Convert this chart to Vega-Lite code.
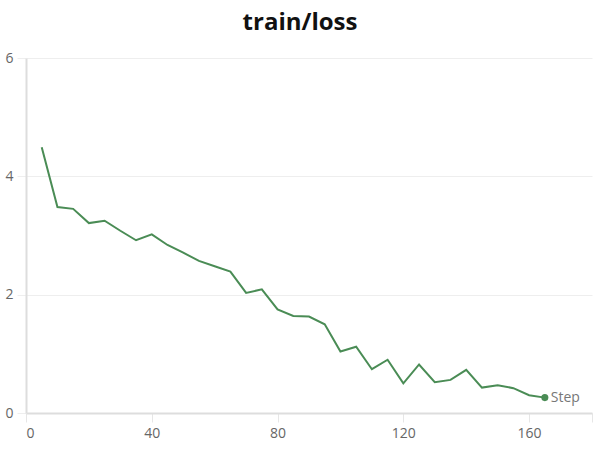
{
  "$schema": "https://vega.github.io/schema/vega-lite/v6.json",
  "width": 566,
  "height": 355,
  "autosize": "none",
  "padding": {"left": 26, "top": 58, "right": 8, "bottom": 37},
  "background": "white",
  "title": {"text": "train/loss", "font": "Open Sans", "fontSize": 24, "fontWeight": "bold", "color": "#111", "offset": 16, "dx": -9},
  "config": {"view": {"stroke": null}},
  "data": {"values": [
    {"step": 5, "loss": 4.49},
    {"step": 10, "loss": 3.48},
    {"step": 15, "loss": 3.45},
    {"step": 20, "loss": 3.21},
    {"step": 25, "loss": 3.25},
    {"step": 30, "loss": 3.08},
    {"step": 35, "loss": 2.92},
    {"step": 40, "loss": 3.02},
    {"step": 45, "loss": 2.84},
    {"step": 50, "loss": 2.71},
    {"step": 55, "loss": 2.57},
    {"step": 60, "loss": 2.48},
    {"step": 65, "loss": 2.39},
    {"step": 70, "loss": 2.03},
    {"step": 75, "loss": 2.09},
    {"step": 80, "loss": 1.75},
    {"step": 85, "loss": 1.64},
    {"step": 90, "loss": 1.63},
    {"step": 95, "loss": 1.50},
    {"step": 100, "loss": 1.04},
    {"step": 105, "loss": 1.12},
    {"step": 110, "loss": 0.74},
    {"step": 115, "loss": 0.90},
    {"step": 120, "loss": 0.50},
    {"step": 125, "loss": 0.82},
    {"step": 130, "loss": 0.52},
    {"step": 135, "loss": 0.56},
    {"step": 140, "loss": 0.73},
    {"step": 145, "loss": 0.43},
    {"step": 150, "loss": 0.47},
    {"step": 155, "loss": 0.42},
    {"step": 160, "loss": 0.30},
    {"step": 165, "loss": 0.26}
  ]},
  "encoding": {
    "x": {"field": "step", "type": "quantitative", "scale": {"domain": [0, 180], "nice": false},
      "axis": {"title": null, "grid": false, "values": [0, 40, 80, 120, 160, 180],
        "labelExpr": "datum.value == 180 ? '' : datum.label",
        "domainColor": "#dddddd", "domainWidth": 2, "tickColor": "#e6e6e6", "tickSize": 9, "tickWidth": 1,
        "labelFont": "Open Sans", "labelFontSize": 14, "labelColor": "#666", "labelPadding": 4}},
    "y": {"field": "loss", "type": "quantitative", "scale": {"domain": [0, 6], "nice": false},
      "axis": {"title": null, "values": [0, 2, 4, 6], "gridColor": "#eeeeee", "gridWidth": 1,
        "domainColor": "#dddddd", "domainWidth": 2, "tickColor": "#eeeeee", "tickSize": 9, "tickWidth": 1,
        "labelFont": "Open Sans", "labelFontSize": 14, "labelColor": "#666", "labelPadding": 4}}
  },
  "layer": [
    {"mark": {"type": "line", "color": "#4a8c55", "strokeWidth": 2}},
    {"transform": [{"filter": "datum.step == 165"}],
     "mark": {"type": "point", "filled": true, "color": "#4a8c55", "size": 50, "opacity": 1}},
    {"transform": [{"filter": "datum.step == 165"}],
     "mark": {"type": "text", "text": "Step", "align": "left", "dx": 6, "font": "Open Sans", "fontSize": 14, "color": "#777"}}
  ]
}
